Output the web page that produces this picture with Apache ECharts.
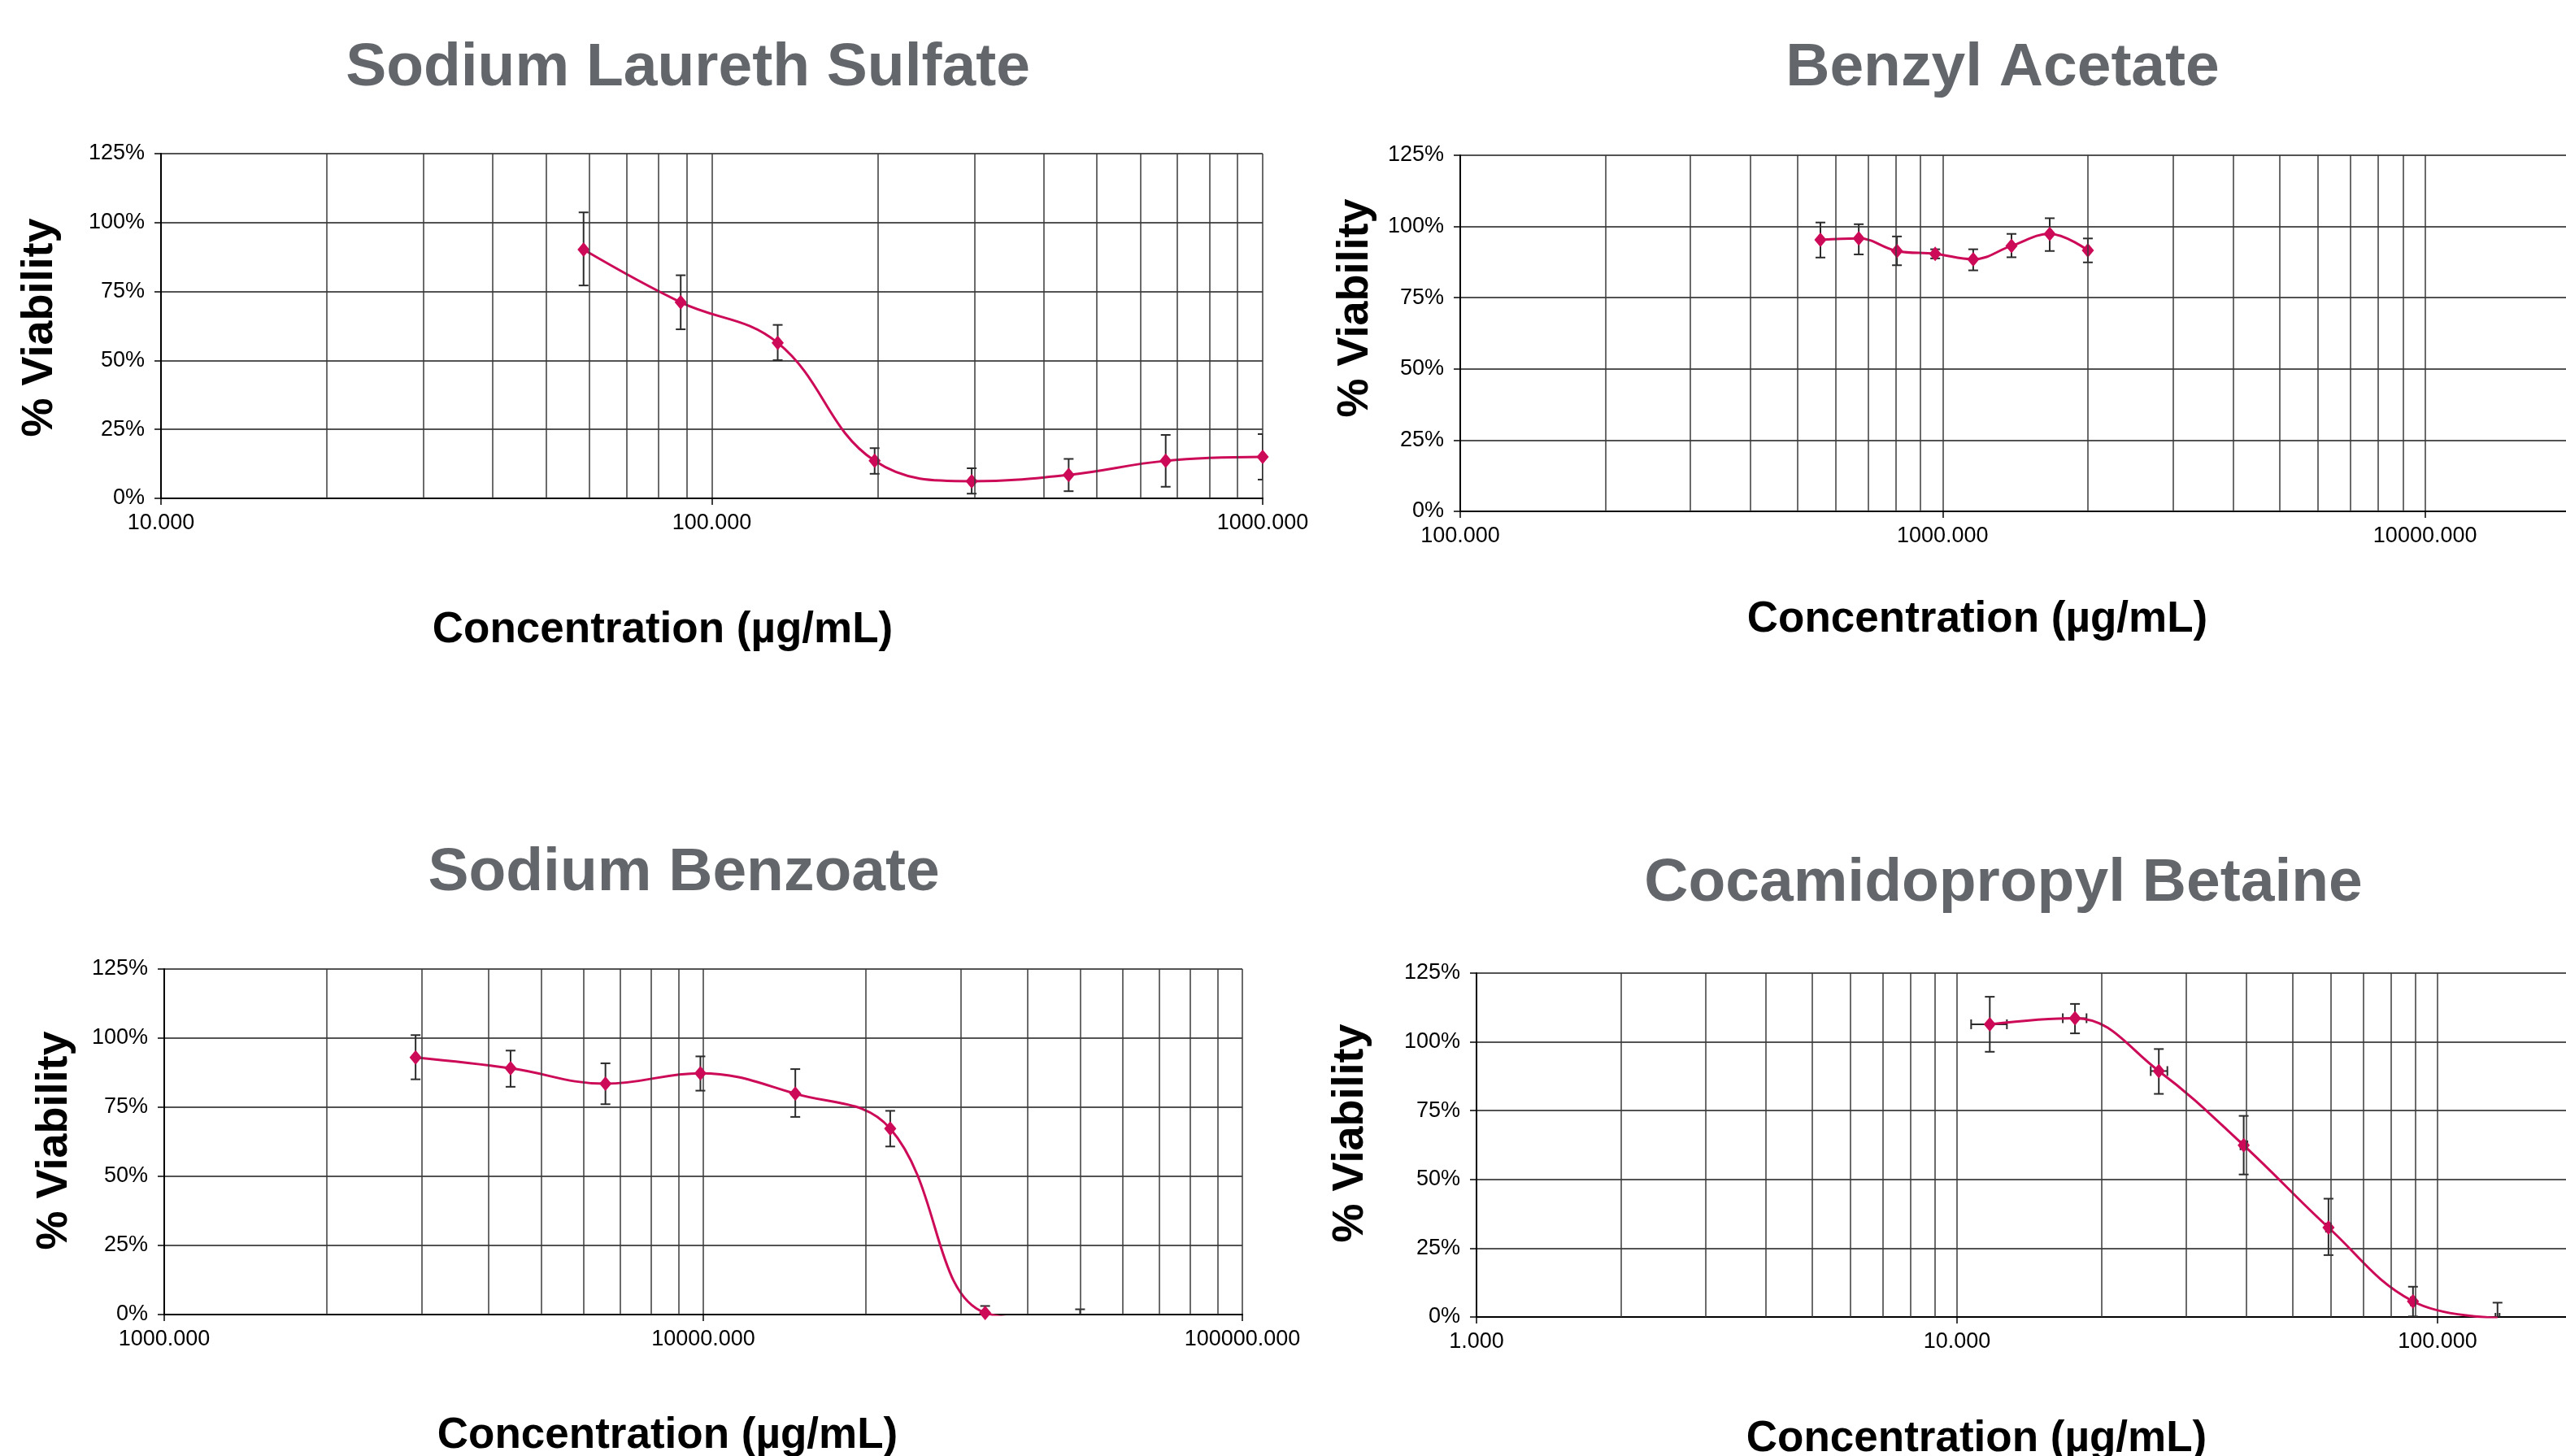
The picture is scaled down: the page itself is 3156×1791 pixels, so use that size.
<!DOCTYPE html>
<html>
<head>
<meta charset="utf-8">
<script src="https://cdn.jsdelivr.net/npm/echarts@6/dist/echarts.min.js"></script>
<style>
html,body{margin:0;padding:0;background:#fff;}
#chart{width:3156px;height:1791px;}
</style>
</head>
<body>
<div id="chart"></div>
<script>
// ---------------- DATA ----------------
const chartTitles = ['Sodium Laureth Sulfate', 'Benzyl Acetate', 'Sodium Benzoate', 'Cocamidopropyl Betaine'];
const xAxisTitle = 'Concentration (µg/mL)';
const yAxisTitle = '% Viability';
const yTicks = [0, 25, 50, 75, 100, 125];

// Sodium Laureth Sulfate
const slsConc = [58.5, 87.8, 131.7, 197.5, 296.3, 444.4, 666.7, 1000];
const slsViab = [90.2, 71.1, 56.4, 13.6, 6.2, 8.5, 13.6, 15.0];
const slsLow  = [77.2, 61.3, 50.1, 8.9, 1.7, 2.6, 4.2, 6.8];
const slsHigh = [103.7, 80.9, 62.9, 18.2, 10.9, 14.3, 23.0, 23.3];

// Benzyl Acetate
const baConc = [558, 670, 804, 965, 1157, 1389, 1667, 2000];
const baViab = [95.3, 95.8, 91.4, 90.4, 88.5, 93.2, 97.4, 91.6];
const baLow  = [89.1, 90.2, 86.4, 88.8, 84.6, 89.2, 91.4, 87.4];
const baHigh = [101.4, 100.8, 96.5, 92.0, 92.0, 97.4, 102.9, 95.8];

// Sodium Benzoate
const sbConc = [2926, 4390, 6584, 9877, 14815, 22222, 33333, 50000];
const sbViab = [93.0, 89.1, 83.5, 87.3, 79.9, 67.3, 0.6, -2.5];
const sbLow  = [85.1, 82.4, 76.1, 81.0, 71.5, 60.8, -0.4, -5.0];
const sbHigh = [101.1, 95.5, 90.9, 93.4, 88.8, 73.7, 3.1, 1.9];

// Cocamidopropyl Betaine
const cbConc  = [11.7, 17.6, 26.3, 39.5, 59.3, 88.9, 133.3];
const cbViab  = [106.4, 108.6, 89.4, 62.4, 32.5, 5.7, -0.3];
const cbLow   = [96.4, 103.1, 81.1, 51.8, 22.5, 0.2, -5.0];
const cbHigh  = [116.4, 113.8, 97.4, 73.1, 43.0, 11.0, 5.2];
const cbXLow  = [10.7, 16.6, 25.3, 38.9, 58.6, 88.0, 132.0];
const cbXHigh = [12.7, 18.6, 27.4, 40.2, 60.0, 89.8, 134.6];

// log axis ranges (decades)
const xRanges = [[10, 1000], [100, 100000], [1000, 100000], [1, 1000]];

// ---------------- STYLE / LAYOUT ----------------
const FONT = "'Liberation Sans', Arial, Helvetica, sans-serif";
const LINE_COLOR = '#cc0a57';
const GRID_COLOR = '#3a3a3a';
const grids = [
  {left: 198, top: 189, width: 1355, height: 424},
  {left: 1796, top: 191, width: 1780, height: 438},
  {left: 202, top: 1192, width: 1326, height: 425},
  {left: 1816, top: 1197, width: 1773, height: 423}
];
const titlePos = [[841, 86], [2458, 86], [836, 1076], [2459, 1089]];
const xTitlePos = [[815, 775], [2432, 762], [821, 1766], [2431, 1770]];
const yTitlePos = [[49, 403], [1667, 379], [67, 1403], [1661, 1394]];

const datasets = [
  {conc: slsConc, viab: slsViab, low: slsLow, high: slsHigh},
  {conc: baConc, viab: baViab, low: baLow, high: baHigh},
  {conc: sbConc, viab: sbViab, low: sbLow, high: sbHigh},
  {conc: cbConc, viab: cbViab, low: cbLow, high: cbHigh, xlow: cbXLow, xhigh: cbXHigh}
];

function minorGridValues(range) {
  const vals = [];
  for (let d = range[0]; d < range[1]; d *= 10) {
    for (let k = 2; k <= 9; k++) vals.push(k * d);
  }
  return vals;
}

const errStyle = {stroke: '#2b2b2b', lineWidth: 2};
function vErrRender(params, api) {
  const x = api.value(0), lo = api.value(1), hi = api.value(2);
  const a = api.coord([x, lo]), b = api.coord([x, hi]);
  const hw = 6;
  return {type: 'group', children: [
    {type: 'line', shape: {x1: a[0], y1: a[1], x2: b[0], y2: b[1]}, style: errStyle},
    {type: 'line', shape: {x1: b[0] - hw, y1: b[1], x2: b[0] + hw, y2: b[1]}, style: errStyle},
    {type: 'line', shape: {x1: a[0] - hw, y1: a[1], x2: a[0] + hw, y2: a[1]}, style: errStyle}
  ]};
}
function hErrRender(params, api) {
  const y = api.value(0), lo = api.value(1), hi = api.value(2);
  const a = api.coord([lo, y]), b = api.coord([hi, y]);
  const hh = 6;
  return {type: 'group', children: [
    {type: 'line', shape: {x1: a[0], y1: a[1], x2: b[0], y2: b[1]}, style: errStyle},
    {type: 'line', shape: {x1: a[0], y1: a[1] - hh, x2: a[0], y2: a[1] + hh}, style: errStyle},
    {type: 'line', shape: {x1: b[0], y1: b[1] - hh, x2: b[0], y2: b[1] + hh}, style: errStyle}
  ]};
}

const option = {
  animation: false,
  backgroundColor: '#ffffff',
  grid: grids.map(g => Object.assign({containLabel: false, outerBoundsMode: 'none'}, g)),
  xAxis: xRanges.map((r, i) => ({
    gridIndex: i, type: 'log', logBase: 10, min: r[0], max: r[1],
    axisLine: {show: true, onZero: false, lineStyle: {color: '#000', width: 2}},
    axisTick: {show: true, length: 8, inside: false, lineStyle: {color: '#000', width: 1.5}},
    axisLabel: {show: true, margin: 17, fontSize: 27, color: '#000', fontFamily: FONT,
      formatter: v => Number(v).toFixed(3)},
    splitLine: {show: true, lineStyle: {color: GRID_COLOR, width: 1.5}}
  })),
  yAxis: xRanges.map((r, i) => ({
    gridIndex: i, type: 'value', min: yTicks[0], max: yTicks[yTicks.length - 1], interval: 25,
    axisLine: {show: true, onZero: false, lineStyle: {color: '#000', width: 2}},
    axisTick: {show: true, length: 8, lineStyle: {color: '#000', width: 1.5}},
    axisLabel: {show: true, margin: 20, fontSize: 27, color: '#000', fontFamily: FONT,
      formatter: '{value}%'},
    splitLine: {show: true, lineStyle: {color: '#1a1a1a', width: 1.5}}
  })),
  title: chartTitles.map((t, i) => ({
    text: t, left: titlePos[i][0], top: titlePos[i][1] - 44, textAlign: 'center',
    textStyle: {fontSize: 75, fontWeight: 'bold', color: '#63666a', fontFamily: FONT}
  })),
  graphic: [].concat(
    xTitlePos.map(p => ({type: 'text', x: p[0], y: p[1], silent: true,
      style: {text: xAxisTitle, font: 'bold 53px ' + FONT, fill: '#000', textAlign: 'center', textVerticalAlign: 'middle'}})),
    yTitlePos.map(p => ({type: 'text', x: p[0], y: p[1], rotation: Math.PI / 2, silent: true,
      style: {text: yAxisTitle, font: 'bold 54px ' + FONT, fill: '#000', textAlign: 'center', textVerticalAlign: 'middle'}}))
  ),
  series: []
};

datasets.forEach((d, i) => {
  // minor log grid lines
  option.series.push({
    type: 'line', xAxisIndex: i, yAxisIndex: i, data: [], silent: true, z: 1,
    markLine: {
      silent: true, symbol: ['none', 'none'], label: {show: false}, animation: false,
      emphasis: {disabled: true},
      lineStyle: {color: GRID_COLOR, width: 1.5, type: 'solid'},
      data: minorGridValues(xRanges[i]).map(v => ({xAxis: v}))
    }
  });
  // vertical error bars
  option.series.push({
    type: 'custom', xAxisIndex: i, yAxisIndex: i, clip: true, z: 3, silent: true,
    renderItem: vErrRender,
    encode: {x: 0, y: [1, 2]},
    data: d.conc.map((c, k) => [c, d.low[k], d.high[k]])
  });
  // horizontal error bars
  if (d.xlow) {
    option.series.push({
      type: 'custom', xAxisIndex: i, yAxisIndex: i, clip: true, z: 3, silent: true,
      renderItem: hErrRender,
      encode: {y: 0, x: [1, 2]},
      data: d.viab.map((v, k) => [v, d.xlow[k], d.xhigh[k]])
    });
  }
  // curve with markers
  option.series.push({
    type: 'line', xAxisIndex: i, yAxisIndex: i, smooth: 0.4, clip: true, z: 4,
    symbol: 'diamond', symbolSize: [15, 18], showSymbol: true,
    lineStyle: {color: LINE_COLOR, width: 3},
    itemStyle: {color: LINE_COLOR, borderWidth: 0},
    data: d.conc.map((c, k) => [c, d.viab[k]])
  });
});

const chart = echarts.init(document.getElementById('chart'), null, {renderer: 'canvas'});
chart.setOption(option);
</script>
</body>
</html>
